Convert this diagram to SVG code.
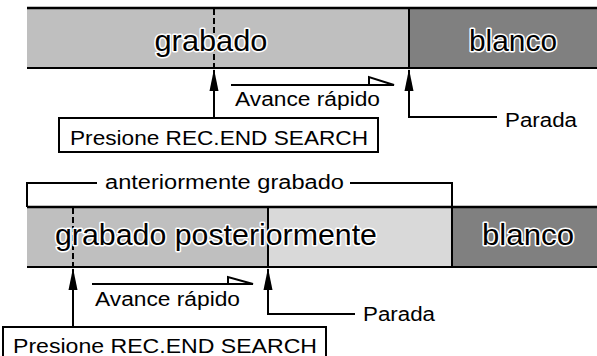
<svg xmlns="http://www.w3.org/2000/svg" width="597" height="356" viewBox="0 0 597 356">
<style>
.ln{stroke:#000;stroke-width:2;fill:none}
.dash{stroke:#000;stroke-width:2;stroke-dasharray:6 3;fill:none}
.big{font-family:"Liberation Sans",Arial,sans-serif;font-size:29px;fill:#000;stroke:#fff;stroke-width:3;paint-order:stroke;stroke-linejoin:round}
.t{font-family:"Liberation Sans",Arial,sans-serif;font-size:20px;fill:#000}
.box{fill:#fff;stroke:#000;stroke-width:2}
</style>
<defs>
<marker id="ah" markerWidth="10" markerHeight="22" refX="5" refY="1" orient="0" markerUnits="userSpaceOnUse" viewBox="0 0 10 22">
<path d="M5,0 L9.5,22 L0.5,22 Z" fill="#000"/>
</marker>
</defs>
<g id="bar-top">
<rect x="27" y="8" width="382" height="60" fill="#bfbfbf"/>
<rect x="409" y="8" width="188" height="60" fill="#808080"/>
<line class="ln" x1="27" y1="8" x2="597" y2="8" style="stroke-width:2.5"/>
<line class="ln" x1="27" y1="68" x2="597" y2="68"/>
<line class="ln" x1="409" y1="8" x2="409" y2="68"/>
<line class="dash" x1="214" y1="9" x2="214" y2="68"/>
<text class="big" x="211" y="51" text-anchor="middle" textLength="113" lengthAdjust="spacingAndGlyphs">grabado</text>
<text class="big" x="513" y="51" text-anchor="middle" textLength="88" lengthAdjust="spacingAndGlyphs">blanco</text>
</g>
<g id="box-top">
<rect class="box" x="59" y="118" width="319" height="34"/>
<text class="t" x="70" y="145" font-size="22" textLength="298" lengthAdjust="spacingAndGlyphs">Presione REC.END SEARCH</text>
</g>
<g id="label-avance-top">
<text class="t" x="235" y="106" textLength="145" lengthAdjust="spacingAndGlyphs">Avance rápido</text>
</g>
<g id="label-parada-top">
<text class="t" x="505" y="127" textLength="72" lengthAdjust="spacingAndGlyphs">Parada</text>
</g>
<g id="bar-bottom">
<rect x="27" y="207" width="241" height="60" fill="#bfbfbf"/>
<rect x="268" y="207" width="184" height="60" fill="#d9d9d9"/>
<rect x="452" y="207" width="145" height="60" fill="#808080"/>
<line class="ln" x1="27" y1="207" x2="597" y2="207" style="stroke-width:2.5"/>
<line class="ln" x1="27" y1="267" x2="597" y2="267"/>
<line class="ln" x1="268" y1="207" x2="268" y2="267"/>
<line class="ln" x1="452" y1="207" x2="452" y2="267"/>
<line class="dash" x1="73" y1="208" x2="73" y2="267"/>
<text class="big" x="55" y="245" font-size="30" textLength="322" lengthAdjust="spacingAndGlyphs">grabado posteriormente</text>
<text class="big" x="528" y="245" font-size="30" text-anchor="middle" textLength="92" lengthAdjust="spacingAndGlyphs">blanco</text>
</g>
<g id="label-anteriormente">
<text class="t" x="105" y="189" textLength="239" lengthAdjust="spacingAndGlyphs">anteriormente grabado</text>
</g>
<g id="box-bottom">
<rect class="box" x="3" y="327" width="323" height="34"/>
<text class="t" x="13" y="353" font-size="22" textLength="304" lengthAdjust="spacingAndGlyphs">Presione REC.END SEARCH</text>
</g>
<g id="label-avance-bottom">
<text class="t" x="95" y="306" textLength="145" lengthAdjust="spacingAndGlyphs">Avance rápido</text>
</g>
<g id="label-parada-bottom">
<text class="t" x="363" y="321" textLength="72" lengthAdjust="spacingAndGlyphs">Parada</text>
</g>
<g id="connectors">
<line class="ln" x1="214" y1="118" x2="214" y2="70" marker-end="url(#ah)"/>
<polyline class="ln" points="497,117 409,117 409,70" marker-end="url(#ah)"/>
<line class="ln" x1="231" y1="85" x2="394" y2="85"/>
<path class="ln" d="M369,85 L369,77 L394,85 Z" fill="#fff" style="fill:#fff"/>
<polyline class="ln" points="27,207 27,183 97,183"/>
<polyline class="ln" points="350,183 452,183 452,207"/>
<line class="ln" x1="73" y1="327" x2="73" y2="269" marker-end="url(#ah)"/>
<polyline class="ln" points="355,314 268,314 268,269" marker-end="url(#ah)"/>
<line class="ln" x1="92" y1="284" x2="253" y2="284"/>
<path class="ln" d="M228,284 L228,277 L253,284 Z" style="fill:#fff"/>
</g>
</svg>
